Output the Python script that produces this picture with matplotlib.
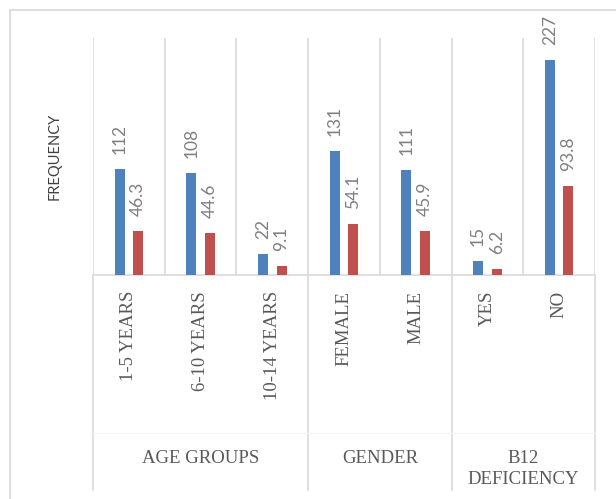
import matplotlib
matplotlib.use("Agg")
import matplotlib.pyplot as plt
import numpy as np

categories = ["1-5 YEARS", "6-10 YEARS", "10-14 YEARS", "FEMALE", "MALE", "YES", "NO"]
frequency = [112, 108, 22, 131, 111, 15, 227]
percentage = [46.3, 44.6, 9.1, 54.1, 45.9, 6.2, 93.8]
groups = ["AGE GROUPS", "GENDER", "B12\nDEFICIENCY"]
group_sizes = [3, 2, 2]

W, H = 616, 499
fig = plt.figure(figsize=(W / 100, H / 100), dpi=100)

# pixel geometry of plot area
px_left, px_right, px_top, px_base = 93, 595, 38, 275
ax = fig.add_axes([px_left / W, 1 - px_base / H, (px_right - px_left) / W, (px_base - px_top) / H])

grid_c = "#D9D9D9"
blue = "#4F81BD"
red = "#C0504D"
lab_c = "#7F7F7F"
cat_c = "#595959"

x = np.arange(len(categories))
bw = 0.14
off = 0.13
ax.bar(x - off, frequency, bw, color=blue, zorder=3)
ax.bar(x + off, percentage, bw, color=red, zorder=3)
ax.set_xlim(-0.5, len(categories) - 0.5)
ax.set_ylim(0, 250)
ax.set_xticks([])
ax.set_yticks([])
for s in ["left", "right", "top"]:
    ax.spines[s].set_visible(False)
ax.spines["bottom"].set_color(grid_c)
ax.spines["bottom"].set_linewidth(1.2)
for b in np.arange(-0.5, len(categories), 1.0):
    ax.axvline(b, color=grid_c, lw=1.2, zorder=1)

lab_font = dict(family=["Lato", "DejaVu Sans"], size=12.5, color=lab_c)
for xi, v in zip(x, frequency):
    ax.annotate(f"{v:g}", (xi - off, v), xytext=(0, 15), textcoords="offset pixels",
                rotation=90, ha="center", va="bottom", **lab_font)
for xi, v in zip(x, percentage):
    ax.annotate(f"{v:g}", (xi + off, v), xytext=(0, 15), textcoords="offset pixels",
                rotation=90, ha="center", va="bottom", **lab_font)

# category axis area (drawn in figure pixel space)
def fx(px):
    return px / W

def fy(py):
    return 1 - py / H

def dx(xd):
    return fx(px_left + (xd + 0.5) * (px_right - px_left) / len(categories))

serif = dict(family=["Liberation Serif", "DejaVu Serif"], size=13.5, color=cat_c)
for xi, c in zip(x, categories):
    fig.text(dx(xi), fy(291), c, rotation=90, ha="center", va="top", **serif)

# group separators
bounds = np.concatenate([[0], np.cumsum(group_sizes)]) - 0.5
for b in bounds:
    fig.add_artist(plt.Line2D([dx(b), dx(b)], [fy(px_base), fy(490)], color=grid_c, lw=1.2))
fig.add_artist(plt.Line2D([dx(-0.5), dx(len(categories) - 0.5)], [fy(433), fy(433)], color="#F5F5F5", lw=1.0))

for i, g in enumerate(groups):
    cx = (bounds[i] + bounds[i + 1]) / 2
    lines = g.split("\n")
    for j, ln in enumerate(lines):
        fig.text(dx(cx), fy(463 + 21 * j), ln, ha="center", va="baseline", **serif)

fig.text(fx(55), fy((px_top + px_base) / 2), "FREQUENCY", rotation=90, ha="center", va="center",
         family=["Lato", "DejaVu Sans"], size=10.5, color="#404040")

# outer chart border (top and left visible)
fig.add_artist(plt.Line2D([fx(10), fx(10)], [fy(10), 0], color=grid_c, lw=1.2))
fig.add_artist(plt.Line2D([fx(10), 1], [fy(10), fy(10)], color=grid_c, lw=1.2))

fig.savefig("out.png", dpi=100)
